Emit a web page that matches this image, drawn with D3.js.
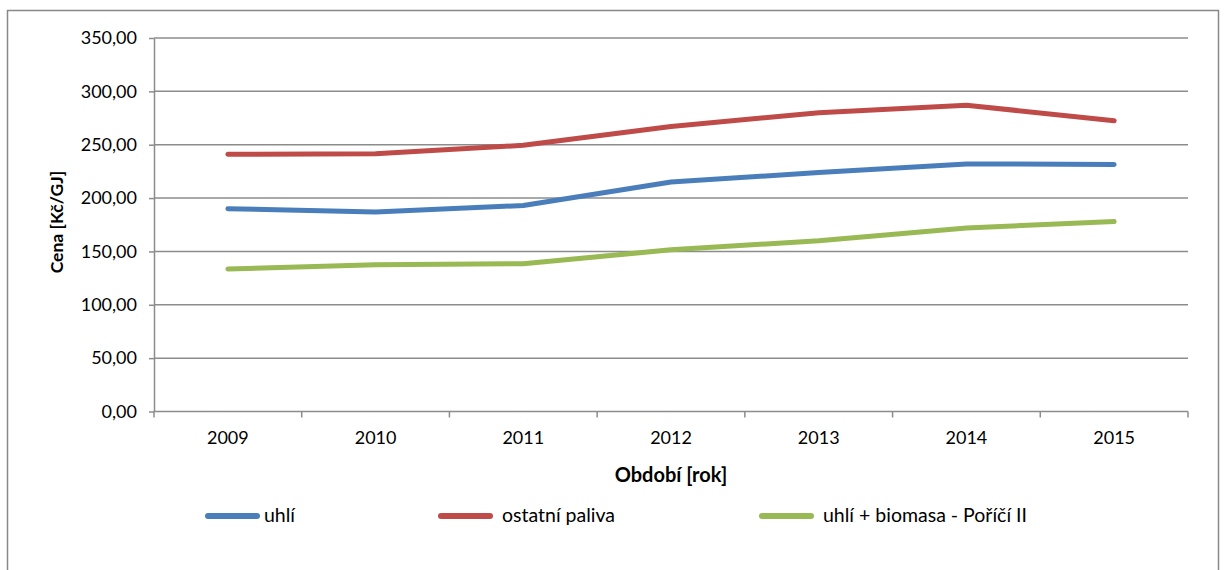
<!DOCTYPE html>
<html>
<head>
<meta charset="utf-8">
<script src="https://cdn.jsdelivr.net/npm/d3@7"></script>
<style>
  body { margin: 0; background: #fff; }
  svg text { font-family: Lato, "Open Sans", sans-serif; fill: #000; }
</style>
</head>
<body>
<svg id="chart" width="1225" height="570"></svg>
<script>
var years = ["2009", "2010", "2011", "2012", "2013", "2014", "2015"];
var uhli = [190.0, 187.0, 193.0, 215.0, 224.0, 232.0, 231.5];
var ostatni = [241.0, 241.5, 249.5, 267.0, 280.0, 287.0, 272.5];
var biomasa = [133.5, 137.5, 138.5, 151.5, 160.0, 172.0, 178.0];
var yTicks = [0, 50, 100, 150, 200, 250, 300, 350];
var seriesNames = ["uhlí", "ostatní paliva", "uhlí + biomasa - Poříčí II"];
var seriesColors = ["#4A7EBB", "#BE4B48", "#98B954"];

var svg = d3.select("#chart");

var plotLeft = 154, plotRight = 1188, plotTop = 38, plotBottom = 411.5;

// outer frame
svg.append("rect")
    .attr("x", 7.5).attr("y", 10.5)
    .attr("width", 1211).attr("height", 600)
    .attr("fill", "none").attr("stroke", "#888").attr("stroke-width", 1.5);

var x = d3.scaleBand().domain(years).range([plotLeft, plotRight]);
var y = d3.scaleLinear().domain([0, 350]).range([plotBottom, plotTop]);

// horizontal gridlines
svg.selectAll(".grid")
    .data(yTicks.filter(function(d) { return d > 0; }))
    .enter().append("line")
    .attr("class", "grid")
    .attr("x1", plotLeft).attr("x2", plotRight)
    .attr("y1", function(d) { return y(d); })
    .attr("y2", function(d) { return y(d); })
    .attr("stroke", "#8c8c8c").attr("stroke-width", 1.5);

// y axis
var fmt = function(d) { return d3.format(".2f")(d).replace(".", ","); };
var yAxis = svg.append("g")
    .attr("transform", "translate(" + plotLeft + ",0)")
    .call(d3.axisLeft(y).tickValues(yTicks).tickFormat(fmt).tickSizeInner(5).tickSizeOuter(0).tickPadding(12));
yAxis.selectAll("line, path").attr("stroke", "#8c8c8c").attr("stroke-width", 1.5);
yAxis.selectAll("text").attr("font-size", 18).attr("font-family", "Lato, sans-serif").attr("fill", "#000");

// x axis
var xAxis = svg.append("g")
    .attr("transform", "translate(0," + plotBottom + ")")
    .call(d3.axisBottom(x).tickSize(0).tickPadding(20));
xAxis.select("path").attr("stroke", "#8c8c8c").attr("stroke-width", 1.5)
    .attr("d", "M" + plotLeft + ",0H" + plotRight);
xAxis.selectAll("text").attr("font-size", 18).attr("font-family", "Lato, sans-serif").attr("fill", "#000");

// tick marks at band boundaries
var bounds = years.map(function(d) { return x(d); }).concat([plotRight]);
svg.selectAll(".xtick")
    .data(bounds)
    .enter().append("line")
    .attr("class", "xtick")
    .attr("x1", function(d) { return d; }).attr("x2", function(d) { return d; })
    .attr("y1", plotBottom).attr("y2", plotBottom + 6)
    .attr("stroke", "#8c8c8c").attr("stroke-width", 1.5);

// axis titles
svg.append("text")
    .attr("transform", "translate(63,222) rotate(-90)")
    .attr("text-anchor", "middle")
    .attr("font-size", 17.5).attr("font-weight", "bold")
    .text("Cena [Kč/GJ]");

svg.append("text")
    .attr("x", 671).attr("y", 482)
    .attr("text-anchor", "middle")
    .attr("font-size", 20).attr("font-weight", "bold")
    .text("Období [rok]");

// lines
var allSeries = [uhli, ostatni, biomasa];
var line = d3.line()
    .x(function(d, i) { return x(years[i]) + x.bandwidth() / 2; })
    .y(function(d) { return y(d); });

svg.selectAll(".series")
    .data(allSeries)
    .enter().append("path")
    .attr("class", "series")
    .attr("d", function(d) { return line(d); })
    .attr("fill", "none")
    .attr("stroke", function(d, i) { return seriesColors[i]; })
    .attr("stroke-width", 5)
    .attr("stroke-linecap", "round")
    .attr("stroke-linejoin", "round");

// legend
var legendX = [208, 441, 762];
var legendTextX = [264, 502, 823];
var legend = svg.selectAll(".legend")
    .data(seriesNames)
    .enter().append("g")
    .attr("class", "legend");

legend.append("line")
    .attr("x1", function(d, i) { return legendX[i]; })
    .attr("x2", function(d, i) { return legendX[i] + 49; })
    .attr("y1", 516).attr("y2", 516)
    .attr("stroke", function(d, i) { return seriesColors[i]; })
    .attr("stroke-width", 6)
    .attr("stroke-linecap", "round");

legend.append("text")
    .attr("x", function(d, i) { return legendTextX[i]; })
    .attr("y", 522)
    .attr("font-size", 19.5)
    .text(function(d) { return d; });
</script>
</body>
</html>
